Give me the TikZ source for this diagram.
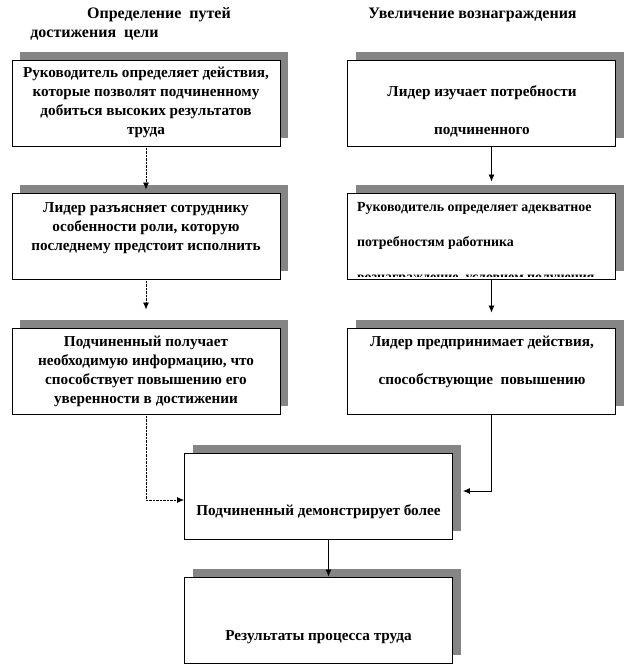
\documentclass[tikz,border=0pt]{standalone}
\usepackage{fontspec}
\setmainfont{Liberation Serif}
\usetikzlibrary{arrows.meta,shadows}
\definecolor{shade}{HTML}{858585}
\begin{document}
\begin{tikzpicture}[x=1pt,y=-1pt,
  box/.style={draw=black, line width=0.9pt, fill=white, minimum width=268pt, minimum height=86pt, inner sep=0pt, anchor=center,
    drop shadow={shadow xshift=8pt, shadow yshift=8pt, fill=shade, opacity=1, draw=none}},
  txt/.style={font=\bfseries\fontsize{15.2}{19}\selectfont, align=center, inner sep=0pt},
  txtsm/.style={font=\bfseries\fontsize{13.9}{19}\selectfont, inner sep=0pt},
  ttl/.style={font=\bfseries\fontsize{16}{19}\selectfont, inner sep=0pt},
  dotline/.style={line width=0.8pt, dash pattern=on 0.7pt off 0.7pt},
  solidline/.style={line width=0.8pt},
  tip/.style={-{Latex[length=7pt,width=6pt]}}
]
\useasboundingbox (0,0) rectangle (637,667);

% titles
\node[ttl] (tl1) at (159,15) {Определение\ \ путей};
\node[ttl] (tl2) at (94.5,35) {достижения\ \ цели};
\node[ttl] (tr) at (472.5,15) {Увеличение вознаграждения};

% boxes
\node[box] (b1) at (146,103) {};
\node[box] (b2) at (146,236) {};
\node[box] (b3) at (146,371) {};
\node[box] (r1) at (481.5,103) {};
\node[box] (r2) at (481.5,236) {};
\node[box] (r3) at (481.5,371) {};
\node[box] (b5) at (318.5,496) {};
\node[box] (b7) at (318.5,620) {};

% texts
\node[txt] (t1) at (146,102.5) {Руководитель определяет действия,\\которые позволят подчиненному\\добиться высоких результатов\\труда};
\node[txt] (t2) at (146,228.5) {Лидер разъясняет сотруднику\\особенности роли, которую\\последнему предстоит исполнить};
\node[txt] (t3) at (146,371.5) {Подчиненный получает\\необходимую\ информацию, что\\способствует повышению его\\уверенности в достижении};
\node[txt] (u1) at (482,111) {Лидер изучает потребности\\[19pt]подчиненного};
\begin{scope}
\clip (347,193) rectangle (616,276);
\node[txtsm, anchor=base west] (u2a) at (357,211) {Руководитель определяет адекватное};
\node[txtsm, anchor=base west] (u2b) at (357,246) {потребностям работника};
\node[txtsm, anchor=base west] (u2c) at (357,281) {вознаграждение\ \ условием получения};
\end{scope}
\node[txt] (u3) at (482,362) {Лидер предпринимает действия,\\[19pt]способствующие\ \ повышению};
\node[txt] (t5) at (318.5,512) {Подчиненный демонстрирует более};
\node[txt] (t7) at (318.5,637) {Результаты процесса труда};

% connectors
\draw[dotline,tip] (b1.south) -- ([yshift=3pt]b2.north);
\draw[dotline,tip] (b2.south) -- ([yshift=18pt]b3.north);
\draw[dotline,tip] (b3.south) |- ([yshift=-4pt]b5.west);
\draw[solidline,tip] ([xshift=10pt]r1.south) -- ([xshift=10pt,yshift=11pt]r2.north);
\draw[solidline,tip] ([xshift=10pt]r2.south) -- ([xshift=10pt,yshift=15pt]r3.north);
\coordinate (r3in) at ([xshift=10pt,yshift=5pt]b5.east);
\draw[solidline,tip] ([xshift=10pt]r3.south) |- (r3in);
\draw[solidline,tip] ([xshift=10pt]b5.south) -- ([xshift=10pt]b7.north);
\end{tikzpicture}
\end{document}
